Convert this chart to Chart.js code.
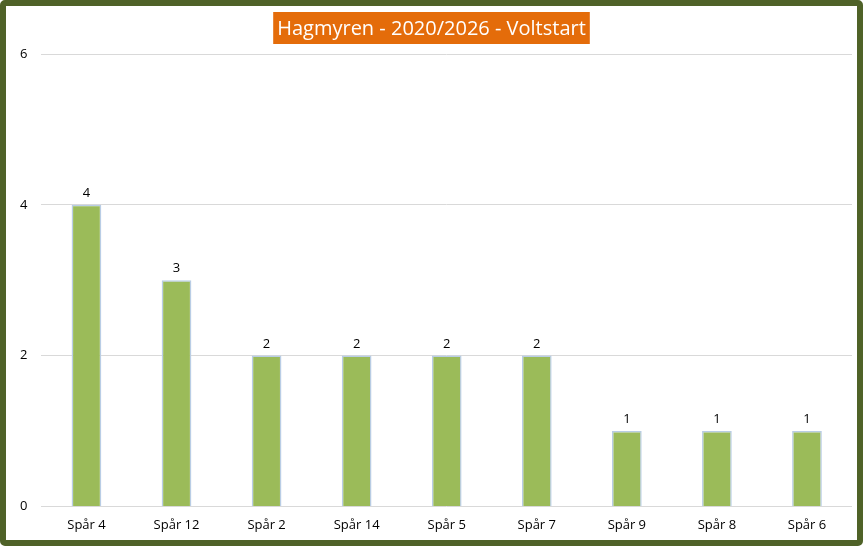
<!DOCTYPE html>
<html><head><meta charset="utf-8">
<script src="https://cdn.jsdelivr.net/npm/chart.js@4"></script>
<style>
html,body{margin:0;padding:0;background:#fff}
#wrap{width:863px;height:546px;box-sizing:border-box;border:6px solid #4f6228;border-radius:5px;position:relative}
</style></head><body>
<div id="wrap"><canvas id="c" width="851" height="534"></canvas></div>
<script>
const categories=["Spår 4","Spår 12","Spår 2","Spår 14","Spår 5","Spår 7","Spår 9","Spår 8","Spår 6"];
const values=[4,3,2,2,2,2,1,1,1];
const yTicks=[0,2,4,6];
const titleText="Hagmyren - 2020/2026 - Voltstart";
const extras={id:'extras',
 afterDatasetsDraw(ch){
  const ctx=ch.ctx;const meta=ch.getDatasetMeta(0);
  ctx.save();ctx.fillStyle='#000';ctx.font='13px "Open Sans"';ctx.textAlign='center';ctx.textBaseline='bottom';
  meta.data.forEach((b,i)=>ctx.fillText(values[i],b.x,b.y-5));
  ctx.font='20px "Open Sans"';
  const w=ctx.measureText(titleText).width+8;
  const cx=ch.width/2;
  ctx.fillStyle='#e46c0a';ctx.fillRect(cx-w/2,6,w,32);
  ctx.fillStyle='#fff';ctx.textBaseline='middle';ctx.fillText(titleText,cx,23);
  ctx.restore();
 }};
new Chart(document.getElementById('c'),{
 type:'bar',
 data:{labels:categories,datasets:[{data:values,backgroundColor:'#9bbb59',borderColor:'#b9cde5',borderWidth:1.5,barPercentage:0.33,categoryPercentage:1}]},
 options:{responsive:false,animation:false,
  layout:{padding:{top:48,right:5,left:0,bottom:4}},
  plugins:{legend:{display:false},tooltip:{enabled:false}},
  scales:{
   x:{grid:{display:false},border:{display:false},ticks:{color:'#000',font:{family:'Open Sans',size:13}}},
   y:{min:0,max:6,afterBuildTicks(a){a.ticks=yTicks.map(v=>({value:v}));},
      grid:{color:'#d9d9d9',drawTicks:false},border:{display:false},
      ticks:{color:'#000',padding:14,font:{family:'Open Sans',size:13}}}
  }},
 plugins:[extras]});
</script></body></html>
